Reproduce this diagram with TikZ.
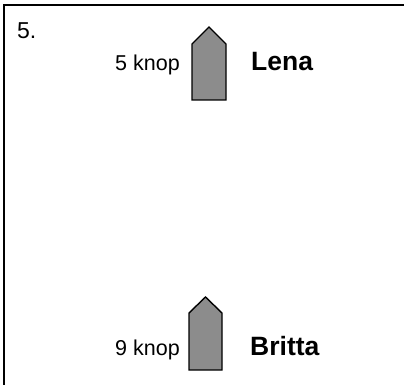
\documentclass[tikz,border=0pt]{standalone}
\usepackage{fontspec}
\setmainfont{Liberation Sans}
\begin{document}
\begin{tikzpicture}[x=1pt,y=-1pt,
  boatshape/.style={draw=black,line width=1.4pt,fill=black!45,line join=miter},
  speedlabel/.style={inner sep=0pt,anchor=base east,font=\fontsize{21.5}{24}\selectfont},
  boatname/.style={inner sep=0pt,anchor=base west,font=\fontsize{26.5}{30}\selectfont\bfseries},
  frameline/.style={line width=2pt}]
\useasboundingbox (0,0) rectangle (404,385);
\fill[white] (0,0) rectangle (404,385);
\draw[frameline] (4,386) -- (4,5) -- (405,5);
\node[inner sep=0pt,anchor=base west,font=\fontsize{23}{26}\selectfont] (num) at (17,39) {5.};
% Lena
\draw[boatshape] (192,100) -- (192,44) -- (209,27) -- (226,44) -- (226,100) -- cycle;
\node[speedlabel] (lspeed) at (180,71) {5 knop};
\node[boatname] (lena) at (251,71) {Lena};
% Britta
\draw[boatshape] (189,370) -- (189,313) -- (205.5,297) -- (222,313) -- (222,370) -- cycle;
\node[speedlabel] (bspeed) at (180,355) {9 knop};
\node[boatname] (britta) at (250,355) {Britta};
\end{tikzpicture}
\end{document}
